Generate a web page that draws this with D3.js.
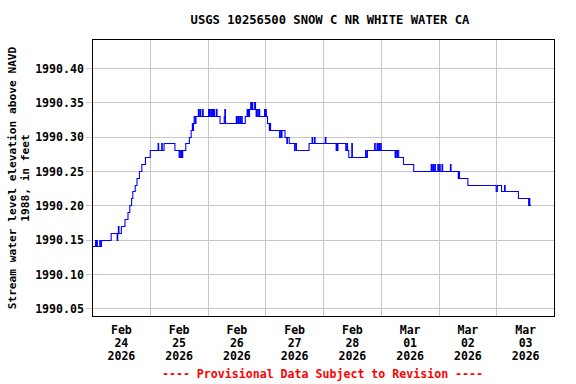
<!DOCTYPE html>
<html><head><meta charset="utf-8">
<script src="https://cdn.jsdelivr.net/npm/d3@7"></script>
<style>
body{margin:0;background:#fff}
svg{display:block}
text{font-family:"DejaVu Sans Mono",monospace;font-weight:bold}
</style>
</head><body>
<svg id="c" width="576" height="384"></svg>
<script>
const title = "USGS 10256500 SNOW C NR WHITE WATER CA";
const yTitle = ["Stream water level elevation above NAVD", "1988, in feet"];
const footer = "---- Provisional Data Subject to Revision ----";
const yTicks = [1990.05, 1990.10, 1990.15, 1990.20, 1990.25, 1990.30, 1990.35, 1990.40];
const yTickLabels = ["1990.05", "1990.10", "1990.15", "1990.20", "1990.25", "1990.30", "1990.35", "1990.40"];
const dayTicks = ["2026-02-24", "2026-02-25", "2026-02-26", "2026-02-27", "2026-02-28", "2026-03-01", "2026-03-02", "2026-03-03"];
const dayLabels = [["Feb","24","2026"],["Feb","25","2026"],["Feb","26","2026"],["Feb","27","2026"],["Feb","28","2026"],["Mar","01","2026"],["Mar","02","2026"],["Mar","03","2026"]];
const xStart = "2026-02-24T00:00", xEnd = "2026-03-04T00:00";
const yMin = 1990.0385, yMax = 1990.4423;

const times = [
"2026-02-24T00:00","2026-02-24T01:15","2026-02-24T01:30","2026-02-24T01:45","2026-02-24T02:00","2026-02-24T03:00","2026-02-24T03:15","2026-02-24T03:45",
"2026-02-24T07:45","2026-02-24T10:15","2026-02-24T10:30","2026-02-24T10:45","2026-02-24T11:00","2026-02-24T12:00","2026-02-24T13:30","2026-02-24T14:45",
"2026-02-24T15:30","2026-02-24T16:15","2026-02-24T16:45","2026-02-24T17:45","2026-02-24T18:30","2026-02-24T19:30","2026-02-24T20:30","2026-02-24T22:00",
"2026-02-25T00:00","2026-02-25T03:15","2026-02-25T03:30","2026-02-25T04:45","2026-02-25T05:00","2026-02-25T05:45","2026-02-25T10:15","2026-02-25T12:00",
"2026-02-25T12:15","2026-02-25T12:30","2026-02-25T13:00","2026-02-25T13:15","2026-02-25T13:30","2026-02-25T14:45","2026-02-25T16:15","2026-02-25T17:00",
"2026-02-25T17:30","2026-02-25T17:45","2026-02-25T18:00","2026-02-25T18:15","2026-02-25T18:45","2026-02-25T19:00","2026-02-25T20:00","2026-02-25T20:15",
"2026-02-25T20:45","2026-02-25T21:00","2026-02-25T21:45","2026-02-25T22:00",
"2026-02-26T00:15","2026-02-26T00:30","2026-02-26T00:45","2026-02-26T01:00","2026-02-26T01:30","2026-02-26T01:45","2026-02-26T02:00","2026-02-26T02:15",
"2026-02-26T02:30","2026-02-26T02:45","2026-02-26T03:30","2026-02-26T03:45","2026-02-26T05:00","2026-02-26T06:45","2026-02-26T07:00","2026-02-26T07:15",
"2026-02-26T11:45","2026-02-26T12:00","2026-02-26T12:30","2026-02-26T12:45","2026-02-26T13:15","2026-02-26T13:30","2026-02-26T14:00","2026-02-26T14:15",
"2026-02-26T15:30","2026-02-26T16:15","2026-02-26T16:30","2026-02-26T16:45","2026-02-26T17:00","2026-02-26T17:15","2026-02-26T17:45","2026-02-26T18:00",
"2026-02-26T18:15","2026-02-26T18:30","2026-02-26T19:15","2026-02-26T19:45","2026-02-26T20:00","2026-02-26T20:15","2026-02-26T20:45","2026-02-26T21:15",
"2026-02-26T21:30","2026-02-26T23:30","2026-02-26T23:45",
"2026-02-27T00:00","2026-02-27T00:15","2026-02-27T00:45","2026-02-27T01:30","2026-02-27T01:45","2026-02-27T02:00","2026-02-27T05:45","2026-02-27T06:00",
"2026-02-27T06:30","2026-02-27T06:45","2026-02-27T08:00","2026-02-27T08:45","2026-02-27T09:00","2026-02-27T09:45","2026-02-27T12:00","2026-02-27T12:15",
"2026-02-27T12:45","2026-02-27T18:00","2026-02-27T19:15","2026-02-27T19:30","2026-02-27T20:15","2026-02-27T20:30",
"2026-02-28T00:45","2026-02-28T01:00","2026-02-28T05:15","2026-02-28T05:30","2026-02-28T05:45","2026-02-28T06:00","2026-02-28T09:15","2026-02-28T09:45",
"2026-02-28T10:00","2026-02-28T10:30","2026-02-28T11:45","2026-02-28T12:00","2026-02-28T17:30","2026-02-28T17:45","2026-02-28T18:15","2026-02-28T21:15",
"2026-02-28T21:30","2026-02-28T22:15","2026-02-28T22:30","2026-02-28T23:00","2026-02-28T23:15","2026-02-28T23:45",
"2026-03-01T00:00","2026-03-01T05:45","2026-03-01T06:00","2026-03-01T06:30","2026-03-01T06:45","2026-03-01T07:15","2026-03-01T09:15","2026-03-01T13:30",
"2026-03-01T20:45","2026-03-01T21:00","2026-03-01T21:30","2026-03-01T21:45","2026-03-01T22:15","2026-03-01T22:30","2026-03-01T23:30","2026-03-01T23:45",
"2026-03-02T00:15","2026-03-02T00:30","2026-03-02T01:15","2026-03-02T01:30","2026-03-02T04:45","2026-03-02T05:00","2026-03-02T08:00","2026-03-02T08:15",
"2026-03-02T08:30","2026-03-02T12:00","2026-03-02T23:45",
"2026-03-03T00:15","2026-03-03T02:00","2026-03-03T03:15","2026-03-03T03:30","2026-03-03T09:00","2026-03-03T13:15","2026-03-03T13:30","2026-03-03T13:45",
"2026-03-03T14:15"
];
const levels = [
1990.14,1990.15,1990.14,1990.15,1990.14,1990.15,1990.14,1990.15,
1990.16,1990.15,1990.16,1990.17,1990.16,1990.17,1990.18,1990.19,
1990.20,1990.21,1990.22,1990.23,1990.24,1990.25,1990.26,1990.27,
1990.28,1990.29,1990.28,1990.29,1990.28,1990.29,1990.28,1990.27,
1990.28,1990.27,1990.28,1990.27,1990.28,1990.29,1990.30,1990.31,
1990.32,1990.31,1990.32,1990.33,1990.32,1990.33,1990.34,1990.33,
1990.34,1990.33,1990.34,1990.33,
1990.34,1990.33,1990.34,1990.33,1990.34,1990.33,1990.34,1990.33,
1990.34,1990.33,1990.34,1990.33,1990.32,1990.33,1990.34,1990.32,
1990.33,1990.32,1990.33,1990.32,1990.33,1990.32,1990.33,1990.32,
1990.33,1990.34,1990.33,1990.34,1990.33,1990.34,1990.35,1990.34,
1990.35,1990.34,1990.35,1990.34,1990.33,1990.34,1990.33,1990.34,
1990.33,1990.34,1990.33,
1990.34,1990.33,1990.32,1990.31,1990.32,1990.31,1990.30,1990.31,
1990.30,1990.31,1990.30,1990.29,1990.30,1990.29,1990.28,1990.29,
1990.28,1990.29,1990.30,1990.29,1990.30,1990.29,
1990.30,1990.29,1990.28,1990.29,1990.28,1990.29,1990.28,1990.29,
1990.28,1990.27,1990.29,1990.27,1990.28,1990.27,1990.28,1990.29,
1990.28,1990.29,1990.28,1990.29,1990.28,1990.29,
1990.28,1990.27,1990.28,1990.27,1990.28,1990.27,1990.26,1990.25,
1990.26,1990.25,1990.26,1990.25,1990.26,1990.25,1990.26,1990.25,
1990.26,1990.25,1990.26,1990.25,1990.26,1990.25,1990.24,1990.25,
1990.24,1990.23,1990.22,
1990.23,1990.22,1990.23,1990.22,1990.21,1990.20,1990.21,1990.20,
1990.20
];

const parse = d3.utcParse("%Y-%m-%dT%H:%M");
const parseDay = d3.utcParse("%Y-%m-%d");
const data = times.map((t, i) => ({t: parse(t), v: levels[i]}));

const L = 92.5, R = 554.5, T = 39.5, B = 316.5;
const svg = d3.select("#c");
const x = d3.scaleUtc().domain([parse(xStart), parse(xEnd)]).range([L, R]);
const y = d3.scaleLinear().domain([yMin, yMax]).range([B, T]);
const crisp = v => Math.round(v - 0.5) + 0.5;

// horizontal grid + left ticks
svg.append("g").selectAll("line").data(yTicks).join("line")
  .attr("x1", 86).attr("x2", R)
  .attr("y1", d => crisp(y(d))).attr("y2", d => crisp(y(d)))
  .attr("stroke", "#c8c8c8").attr("stroke-width", 1);
// vertical grid at midnights
svg.append("g").selectAll("line").data(dayTicks.slice(1)).join("line")
  .attr("x1", d => crisp(x(parseDay(d)))).attr("x2", d => crisp(x(parseDay(d))))
  .attr("y1", T).attr("y2", B)
  .attr("stroke", "#c8c8c8").attr("stroke-width", 1);

svg.append("clipPath").attr("id", "clip").append("rect")
  .attr("x", L).attr("y", T).attr("width", R - L).attr("height", B - T);

const line = d3.line().x(d => x(d.t)).y(d => crisp(y(d.v))).curve(d3.curveStepAfter);
svg.append("path").datum(data).attr("d", line)
  .attr("fill", "none").attr("stroke", "#0000ff").attr("stroke-width", 1.1)
  .attr("clip-path", "url(#clip)");

svg.append("rect").attr("x", L).attr("y", T).attr("width", R - L).attr("height", B - T)
  .attr("fill", "none").attr("stroke", "#000").attr("stroke-width", 1);

// y tick labels
svg.append("g").selectAll("text").data(yTicks).join("text")
  .attr("x", 84).attr("y", d => y(d) + 4.2)
  .attr("text-anchor", "end").attr("font-size", 11.6)
  .text((d, i) => yTickLabels[i]);

// x labels centered at noon
const xl = svg.append("g").selectAll("g").data(dayTicks).join("g")
  .attr("transform", d => `translate(${x(d3.utcHour.offset(parseDay(d), 12))},0)`);
[334, 347, 360].forEach((yy, k) => {
  xl.append("text").attr("y", yy).attr("text-anchor", "middle").attr("font-size", 11.6)
    .text((d, i) => dayLabels[i][k]);
});

// y title
const yt = svg.append("g").attr("transform", `translate(0,${(T + B) / 2}) rotate(-90)`);
yt.append("text").attr("x", 0).attr("y", 16).attr("text-anchor", "middle").attr("font-size", 11.2).text(yTitle[0]);
yt.append("text").attr("x", 0).attr("y", 29).attr("text-anchor", "middle").attr("font-size", 11.2).text(yTitle[1]);

// title
svg.append("text").attr("x", 330).attr("y", 24).attr("text-anchor", "middle").attr("font-size", 12.2).text(title);

// footer
svg.append("text").attr("x", 322.5).attr("y", 378).attr("text-anchor", "middle").attr("font-size", 11.6)
  .attr("fill", "#ff0000").text(footer);
</script>
</body></html>
